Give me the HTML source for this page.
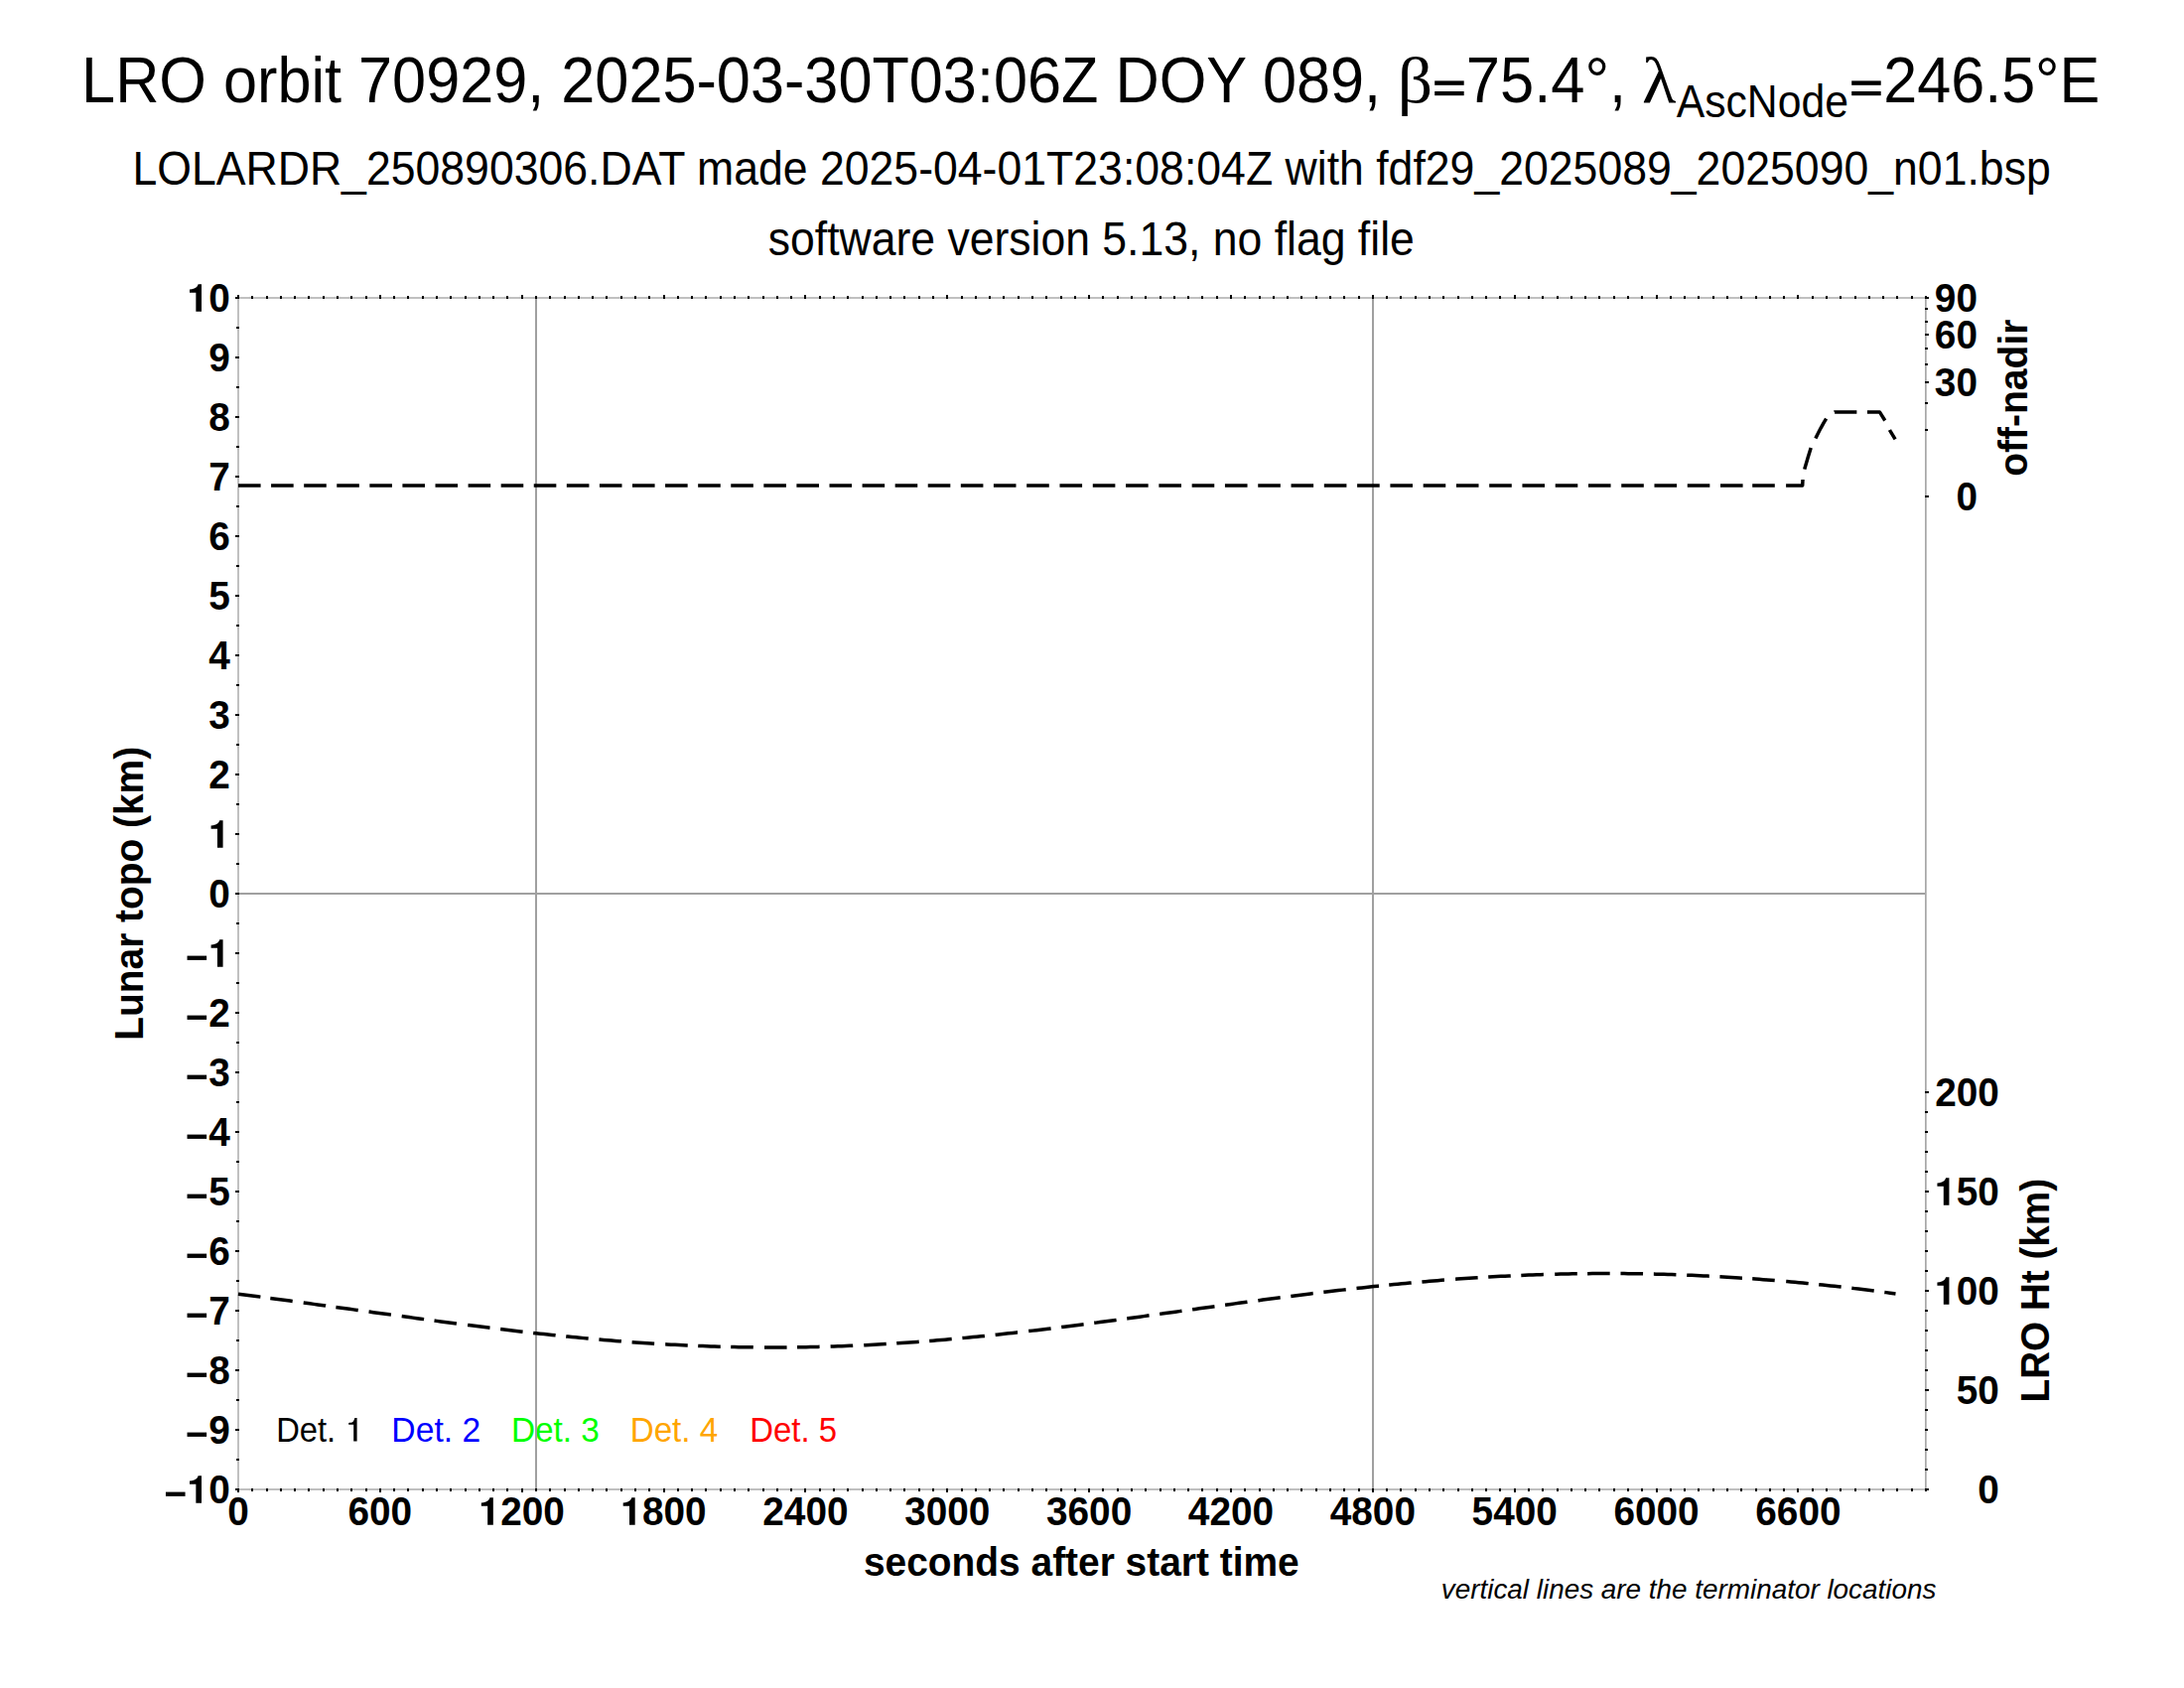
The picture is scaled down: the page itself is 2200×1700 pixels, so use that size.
<!DOCTYPE html><html><head><meta charset="utf-8"><style>html,body{margin:0;padding:0;background:#fff;width:2200px;height:1700px;overflow:hidden}svg{display:block}text{font-family:"Liberation Sans",sans-serif;fill:#000}</style></head><body>
<svg width="2200" height="1700" viewBox="0 0 2200 1700">
<rect width="2200" height="1700" fill="#fff"/>
<g fill="#a0a0a0">
<rect x="240" y="899" width="1700" height="2"/>
</g>
<g fill="#c0c0c0">
<rect x="239" y="299" width="1702" height="2"/>
<rect x="239" y="1499" width="1702" height="2"/>
<rect x="239" y="299" width="2" height="1202"/>
<rect x="1940" y="299" width="1" height="1202"/>
</g>
<rect x="1939" y="299" width="1" height="1202" fill="#a8a8a8"/>
<g fill="#000"><rect x="1445.2" y="81.4" width="29.5" height="4.4"/><rect x="1445.2" y="92" width="29.5" height="4.2"/><rect x="1865.2" y="81.4" width="29.5" height="4.4"/><rect x="1865.2" y="92" width="29.5" height="4.2"/></g>
<g fill="#000">
<rect x="239" y="297" width="2" height="4"/>
<rect x="239" y="1499" width="2" height="4"/>
<rect x="253" y="298" width="2" height="3"/>
<rect x="253" y="1499" width="2" height="3"/>
<rect x="268" y="298" width="2" height="3"/>
<rect x="268" y="1499" width="2" height="3"/>
<rect x="282" y="298" width="2" height="3"/>
<rect x="282" y="1499" width="2" height="3"/>
<rect x="296" y="298" width="2" height="3"/>
<rect x="296" y="1499" width="2" height="3"/>
<rect x="310" y="298" width="2" height="3"/>
<rect x="310" y="1499" width="2" height="3"/>
<rect x="325" y="298" width="2" height="3"/>
<rect x="325" y="1499" width="2" height="3"/>
<rect x="339" y="298" width="2" height="3"/>
<rect x="339" y="1499" width="2" height="3"/>
<rect x="353" y="298" width="2" height="3"/>
<rect x="353" y="1499" width="2" height="3"/>
<rect x="368" y="298" width="2" height="3"/>
<rect x="368" y="1499" width="2" height="3"/>
<rect x="382" y="297" width="2" height="4"/>
<rect x="382" y="1499" width="2" height="4"/>
<rect x="396" y="298" width="2" height="3"/>
<rect x="396" y="1499" width="2" height="3"/>
<rect x="410" y="298" width="2" height="3"/>
<rect x="410" y="1499" width="2" height="3"/>
<rect x="425" y="298" width="2" height="3"/>
<rect x="425" y="1499" width="2" height="3"/>
<rect x="439" y="298" width="2" height="3"/>
<rect x="439" y="1499" width="2" height="3"/>
<rect x="453" y="298" width="2" height="3"/>
<rect x="453" y="1499" width="2" height="3"/>
<rect x="468" y="298" width="2" height="3"/>
<rect x="468" y="1499" width="2" height="3"/>
<rect x="482" y="298" width="2" height="3"/>
<rect x="482" y="1499" width="2" height="3"/>
<rect x="496" y="298" width="2" height="3"/>
<rect x="496" y="1499" width="2" height="3"/>
<rect x="510" y="298" width="2" height="3"/>
<rect x="510" y="1499" width="2" height="3"/>
<rect x="525" y="297" width="2" height="4"/>
<rect x="525" y="1499" width="2" height="4"/>
<rect x="539" y="298" width="2" height="3"/>
<rect x="539" y="1499" width="2" height="3"/>
<rect x="553" y="298" width="2" height="3"/>
<rect x="553" y="1499" width="2" height="3"/>
<rect x="568" y="298" width="2" height="3"/>
<rect x="568" y="1499" width="2" height="3"/>
<rect x="582" y="298" width="2" height="3"/>
<rect x="582" y="1499" width="2" height="3"/>
<rect x="596" y="298" width="2" height="3"/>
<rect x="596" y="1499" width="2" height="3"/>
<rect x="610" y="298" width="2" height="3"/>
<rect x="610" y="1499" width="2" height="3"/>
<rect x="625" y="298" width="2" height="3"/>
<rect x="625" y="1499" width="2" height="3"/>
<rect x="639" y="298" width="2" height="3"/>
<rect x="639" y="1499" width="2" height="3"/>
<rect x="653" y="298" width="2" height="3"/>
<rect x="653" y="1499" width="2" height="3"/>
<rect x="668" y="297" width="2" height="4"/>
<rect x="668" y="1499" width="2" height="4"/>
<rect x="682" y="298" width="2" height="3"/>
<rect x="682" y="1499" width="2" height="3"/>
<rect x="696" y="298" width="2" height="3"/>
<rect x="696" y="1499" width="2" height="3"/>
<rect x="710" y="298" width="2" height="3"/>
<rect x="710" y="1499" width="2" height="3"/>
<rect x="725" y="298" width="2" height="3"/>
<rect x="725" y="1499" width="2" height="3"/>
<rect x="739" y="298" width="2" height="3"/>
<rect x="739" y="1499" width="2" height="3"/>
<rect x="753" y="298" width="2" height="3"/>
<rect x="753" y="1499" width="2" height="3"/>
<rect x="768" y="298" width="2" height="3"/>
<rect x="768" y="1499" width="2" height="3"/>
<rect x="782" y="298" width="2" height="3"/>
<rect x="782" y="1499" width="2" height="3"/>
<rect x="796" y="298" width="2" height="3"/>
<rect x="796" y="1499" width="2" height="3"/>
<rect x="810" y="297" width="2" height="4"/>
<rect x="810" y="1499" width="2" height="4"/>
<rect x="825" y="298" width="2" height="3"/>
<rect x="825" y="1499" width="2" height="3"/>
<rect x="839" y="298" width="2" height="3"/>
<rect x="839" y="1499" width="2" height="3"/>
<rect x="853" y="298" width="2" height="3"/>
<rect x="853" y="1499" width="2" height="3"/>
<rect x="868" y="298" width="2" height="3"/>
<rect x="868" y="1499" width="2" height="3"/>
<rect x="882" y="298" width="2" height="3"/>
<rect x="882" y="1499" width="2" height="3"/>
<rect x="896" y="298" width="2" height="3"/>
<rect x="896" y="1499" width="2" height="3"/>
<rect x="910" y="298" width="2" height="3"/>
<rect x="910" y="1499" width="2" height="3"/>
<rect x="925" y="298" width="2" height="3"/>
<rect x="925" y="1499" width="2" height="3"/>
<rect x="939" y="298" width="2" height="3"/>
<rect x="939" y="1499" width="2" height="3"/>
<rect x="953" y="297" width="2" height="4"/>
<rect x="953" y="1499" width="2" height="4"/>
<rect x="968" y="298" width="2" height="3"/>
<rect x="968" y="1499" width="2" height="3"/>
<rect x="982" y="298" width="2" height="3"/>
<rect x="982" y="1499" width="2" height="3"/>
<rect x="996" y="298" width="2" height="3"/>
<rect x="996" y="1499" width="2" height="3"/>
<rect x="1010" y="298" width="2" height="3"/>
<rect x="1010" y="1499" width="2" height="3"/>
<rect x="1025" y="298" width="2" height="3"/>
<rect x="1025" y="1499" width="2" height="3"/>
<rect x="1039" y="298" width="2" height="3"/>
<rect x="1039" y="1499" width="2" height="3"/>
<rect x="1053" y="298" width="2" height="3"/>
<rect x="1053" y="1499" width="2" height="3"/>
<rect x="1068" y="298" width="2" height="3"/>
<rect x="1068" y="1499" width="2" height="3"/>
<rect x="1082" y="298" width="2" height="3"/>
<rect x="1082" y="1499" width="2" height="3"/>
<rect x="1096" y="297" width="2" height="4"/>
<rect x="1096" y="1499" width="2" height="4"/>
<rect x="1110" y="298" width="2" height="3"/>
<rect x="1110" y="1499" width="2" height="3"/>
<rect x="1125" y="298" width="2" height="3"/>
<rect x="1125" y="1499" width="2" height="3"/>
<rect x="1139" y="298" width="2" height="3"/>
<rect x="1139" y="1499" width="2" height="3"/>
<rect x="1153" y="298" width="2" height="3"/>
<rect x="1153" y="1499" width="2" height="3"/>
<rect x="1168" y="298" width="2" height="3"/>
<rect x="1168" y="1499" width="2" height="3"/>
<rect x="1182" y="298" width="2" height="3"/>
<rect x="1182" y="1499" width="2" height="3"/>
<rect x="1196" y="298" width="2" height="3"/>
<rect x="1196" y="1499" width="2" height="3"/>
<rect x="1210" y="298" width="2" height="3"/>
<rect x="1210" y="1499" width="2" height="3"/>
<rect x="1225" y="298" width="2" height="3"/>
<rect x="1225" y="1499" width="2" height="3"/>
<rect x="1239" y="297" width="2" height="4"/>
<rect x="1239" y="1499" width="2" height="4"/>
<rect x="1253" y="298" width="2" height="3"/>
<rect x="1253" y="1499" width="2" height="3"/>
<rect x="1268" y="298" width="2" height="3"/>
<rect x="1268" y="1499" width="2" height="3"/>
<rect x="1282" y="298" width="2" height="3"/>
<rect x="1282" y="1499" width="2" height="3"/>
<rect x="1296" y="298" width="2" height="3"/>
<rect x="1296" y="1499" width="2" height="3"/>
<rect x="1310" y="298" width="2" height="3"/>
<rect x="1310" y="1499" width="2" height="3"/>
<rect x="1325" y="298" width="2" height="3"/>
<rect x="1325" y="1499" width="2" height="3"/>
<rect x="1339" y="298" width="2" height="3"/>
<rect x="1339" y="1499" width="2" height="3"/>
<rect x="1353" y="298" width="2" height="3"/>
<rect x="1353" y="1499" width="2" height="3"/>
<rect x="1368" y="298" width="2" height="3"/>
<rect x="1368" y="1499" width="2" height="3"/>
<rect x="1382" y="297" width="2" height="4"/>
<rect x="1382" y="1499" width="2" height="4"/>
<rect x="1396" y="298" width="2" height="3"/>
<rect x="1396" y="1499" width="2" height="3"/>
<rect x="1410" y="298" width="2" height="3"/>
<rect x="1410" y="1499" width="2" height="3"/>
<rect x="1425" y="298" width="2" height="3"/>
<rect x="1425" y="1499" width="2" height="3"/>
<rect x="1439" y="298" width="2" height="3"/>
<rect x="1439" y="1499" width="2" height="3"/>
<rect x="1453" y="298" width="2" height="3"/>
<rect x="1453" y="1499" width="2" height="3"/>
<rect x="1468" y="298" width="2" height="3"/>
<rect x="1468" y="1499" width="2" height="3"/>
<rect x="1482" y="298" width="2" height="3"/>
<rect x="1482" y="1499" width="2" height="3"/>
<rect x="1496" y="298" width="2" height="3"/>
<rect x="1496" y="1499" width="2" height="3"/>
<rect x="1510" y="298" width="2" height="3"/>
<rect x="1510" y="1499" width="2" height="3"/>
<rect x="1525" y="297" width="2" height="4"/>
<rect x="1525" y="1499" width="2" height="4"/>
<rect x="1539" y="298" width="2" height="3"/>
<rect x="1539" y="1499" width="2" height="3"/>
<rect x="1553" y="298" width="2" height="3"/>
<rect x="1553" y="1499" width="2" height="3"/>
<rect x="1568" y="298" width="2" height="3"/>
<rect x="1568" y="1499" width="2" height="3"/>
<rect x="1582" y="298" width="2" height="3"/>
<rect x="1582" y="1499" width="2" height="3"/>
<rect x="1596" y="298" width="2" height="3"/>
<rect x="1596" y="1499" width="2" height="3"/>
<rect x="1610" y="298" width="2" height="3"/>
<rect x="1610" y="1499" width="2" height="3"/>
<rect x="1625" y="298" width="2" height="3"/>
<rect x="1625" y="1499" width="2" height="3"/>
<rect x="1639" y="298" width="2" height="3"/>
<rect x="1639" y="1499" width="2" height="3"/>
<rect x="1653" y="298" width="2" height="3"/>
<rect x="1653" y="1499" width="2" height="3"/>
<rect x="1668" y="297" width="2" height="4"/>
<rect x="1668" y="1499" width="2" height="4"/>
<rect x="1682" y="298" width="2" height="3"/>
<rect x="1682" y="1499" width="2" height="3"/>
<rect x="1696" y="298" width="2" height="3"/>
<rect x="1696" y="1499" width="2" height="3"/>
<rect x="1710" y="298" width="2" height="3"/>
<rect x="1710" y="1499" width="2" height="3"/>
<rect x="1725" y="298" width="2" height="3"/>
<rect x="1725" y="1499" width="2" height="3"/>
<rect x="1739" y="298" width="2" height="3"/>
<rect x="1739" y="1499" width="2" height="3"/>
<rect x="1753" y="298" width="2" height="3"/>
<rect x="1753" y="1499" width="2" height="3"/>
<rect x="1768" y="298" width="2" height="3"/>
<rect x="1768" y="1499" width="2" height="3"/>
<rect x="1782" y="298" width="2" height="3"/>
<rect x="1782" y="1499" width="2" height="3"/>
<rect x="1796" y="298" width="2" height="3"/>
<rect x="1796" y="1499" width="2" height="3"/>
<rect x="1810" y="297" width="2" height="4"/>
<rect x="1810" y="1499" width="2" height="4"/>
<rect x="1825" y="298" width="2" height="3"/>
<rect x="1825" y="1499" width="2" height="3"/>
<rect x="1839" y="298" width="2" height="3"/>
<rect x="1839" y="1499" width="2" height="3"/>
<rect x="1853" y="298" width="2" height="3"/>
<rect x="1853" y="1499" width="2" height="3"/>
<rect x="1868" y="298" width="2" height="3"/>
<rect x="1868" y="1499" width="2" height="3"/>
<rect x="1882" y="298" width="2" height="3"/>
<rect x="1882" y="1499" width="2" height="3"/>
<rect x="1896" y="298" width="2" height="3"/>
<rect x="1896" y="1499" width="2" height="3"/>
<rect x="1910" y="298" width="2" height="3"/>
<rect x="1910" y="1499" width="2" height="3"/>
<rect x="1925" y="298" width="2" height="3"/>
<rect x="1925" y="1499" width="2" height="3"/>
<rect x="1939" y="298" width="2" height="3"/>
<rect x="1939" y="1499" width="2" height="3"/>
<rect x="237" y="299" width="4" height="2"/>
<rect x="238" y="329" width="3" height="2"/>
<rect x="237" y="359" width="4" height="2"/>
<rect x="238" y="389" width="3" height="2"/>
<rect x="237" y="419" width="4" height="2"/>
<rect x="238" y="449" width="3" height="2"/>
<rect x="237" y="479" width="4" height="2"/>
<rect x="238" y="509" width="3" height="2"/>
<rect x="237" y="539" width="4" height="2"/>
<rect x="238" y="569" width="3" height="2"/>
<rect x="237" y="599" width="4" height="2"/>
<rect x="238" y="629" width="3" height="2"/>
<rect x="237" y="659" width="4" height="2"/>
<rect x="238" y="689" width="3" height="2"/>
<rect x="237" y="719" width="4" height="2"/>
<rect x="238" y="749" width="3" height="2"/>
<rect x="237" y="779" width="4" height="2"/>
<rect x="238" y="809" width="3" height="2"/>
<rect x="237" y="839" width="4" height="2"/>
<rect x="238" y="869" width="3" height="2"/>
<rect x="237" y="899" width="4" height="2"/>
<rect x="238" y="929" width="3" height="2"/>
<rect x="237" y="959" width="4" height="2"/>
<rect x="238" y="989" width="3" height="2"/>
<rect x="237" y="1019" width="4" height="2"/>
<rect x="238" y="1049" width="3" height="2"/>
<rect x="237" y="1079" width="4" height="2"/>
<rect x="238" y="1109" width="3" height="2"/>
<rect x="237" y="1139" width="4" height="2"/>
<rect x="238" y="1169" width="3" height="2"/>
<rect x="237" y="1199" width="4" height="2"/>
<rect x="238" y="1229" width="3" height="2"/>
<rect x="237" y="1259" width="4" height="2"/>
<rect x="238" y="1289" width="3" height="2"/>
<rect x="237" y="1319" width="4" height="2"/>
<rect x="238" y="1349" width="3" height="2"/>
<rect x="237" y="1379" width="4" height="2"/>
<rect x="238" y="1409" width="3" height="2"/>
<rect x="237" y="1439" width="4" height="2"/>
<rect x="238" y="1469" width="3" height="2"/>
<rect x="237" y="1499" width="4" height="2"/>
<rect x="1939" y="499" width="4" height="2"/>
<rect x="1939" y="432" width="3" height="2"/>
<rect x="1939" y="405" width="3" height="2"/>
<rect x="1939" y="384" width="4" height="2"/>
<rect x="1939" y="366" width="3" height="2"/>
<rect x="1939" y="350" width="3" height="2"/>
<rect x="1939" y="336" width="4" height="2"/>
<rect x="1939" y="323" width="3" height="2"/>
<rect x="1939" y="310" width="3" height="2"/>
<rect x="1939" y="299" width="4" height="2"/>
<rect x="1939" y="1499" width="4" height="2"/>
<rect x="1939" y="1479" width="3" height="2"/>
<rect x="1939" y="1459" width="3" height="2"/>
<rect x="1939" y="1439" width="3" height="2"/>
<rect x="1939" y="1419" width="3" height="2"/>
<rect x="1939" y="1399" width="4" height="2"/>
<rect x="1939" y="1379" width="3" height="2"/>
<rect x="1939" y="1359" width="3" height="2"/>
<rect x="1939" y="1339" width="3" height="2"/>
<rect x="1939" y="1319" width="3" height="2"/>
<rect x="1939" y="1299" width="4" height="2"/>
<rect x="1939" y="1279" width="3" height="2"/>
<rect x="1939" y="1259" width="3" height="2"/>
<rect x="1939" y="1239" width="3" height="2"/>
<rect x="1939" y="1219" width="3" height="2"/>
<rect x="1939" y="1199" width="4" height="2"/>
<rect x="1939" y="1179" width="3" height="2"/>
<rect x="1939" y="1159" width="3" height="2"/>
<rect x="1939" y="1139" width="3" height="2"/>
<rect x="1939" y="1119" width="3" height="2"/>
<rect x="1939" y="1099" width="4" height="2"/>
</g>
<text transform="translate(82.09 103.00) scale(0.9421 1)" font-size="65">LRO orbit 70929, 2025-03-30T03:06Z DOY 089,</text>
<text transform="translate(1407.72 103.00) scale(1.0692 1)" font-size="65" style="font-family:'Liberation Serif'">β</text>
<text transform="translate(1476.76 103.00) scale(0.9463 1)" font-size="65">75.4°,</text>
<text transform="translate(1654.11 103.00) scale(1.0931 1)" font-size="65" style="font-family:'Liberation Serif'">λ</text>
<text transform="translate(1688.70 118.00) scale(0.9361 1)" font-size="45.6">AscNode</text>
<text transform="translate(1897.28 103.00) scale(0.9398 1)" font-size="65">246.5°E</text>
<text transform="translate(133.44 186.00) scale(0.9410 1)" font-size="47.4">LOLARDR_250890306.DAT made 2025-04-01T23:08:04Z with fdf29_2025089_2025090_n01.bsp</text>
<text transform="translate(773.72 256.50) scale(0.9398 1)" font-size="47.4">software version 5.13, no flag file</text>
<text transform="translate(869.95 1587.00) scale(0.9725 1)" font-size="40" font-weight="bold">seconds after start time</text>
<text transform="translate(1451.81 1610.00) scale(0.9954 1)" font-size="28" font-style="italic">vertical lines are the terminator locations</text>
<text transform="translate(143.90 1047.68) rotate(-90) scale(0.9597 1)" font-size="40.5" font-weight="bold">Lunar topo (km)</text>
<text transform="translate(2042.30 479.83) rotate(-90) scale(0.9642 1)" font-size="40.5" font-weight="bold">off-nadir</text>
<text transform="translate(2063.90 1412.46) rotate(-90) scale(0.9550 1)" font-size="40.5" font-weight="bold">LRO Ht (km)</text>
<text transform="translate(278.15 1451.50) scale(0.9491 1)" font-size="34.5">Det.</text>
<text transform="translate(394.37 1451.50) scale(0.9759 1)" font-size="34.5" style="fill:#0000ff">Det. 2</text>
<text transform="translate(514.90 1451.50) scale(0.9667 1)" font-size="34.5" style="fill:#00ff00">Det. 3</text>
<text transform="translate(634.72 1451.50) scale(0.9614 1)" font-size="34.5" style="fill:#ffa500">Det. 4</text>
<text transform="translate(755.14 1451.50) scale(0.9545 1)" font-size="34.5" style="fill:#ff0000">Det. 5</text>
<text transform="translate(188.76 313.70) scale(0.946 1)" font-size="41" font-weight="bold">&#8199;0</text>
<path transform="translate(188.76 313.70)" d="M14.25 0V-27.4H10.9C10.2 -25.2 8.9 -23.8 6.9 -23.25C5.2 -22.7 3.5 -22.4 2.25 -22.25V-18.95H8.6V0Z"/>
<text transform="translate(210.33 373.70) scale(0.946 1)" font-size="41" font-weight="bold">9</text>
<text transform="translate(210.33 433.70) scale(0.946 1)" font-size="41" font-weight="bold">8</text>
<text transform="translate(210.33 493.70) scale(0.946 1)" font-size="41" font-weight="bold">7</text>
<text transform="translate(210.33 553.70) scale(0.946 1)" font-size="41" font-weight="bold">6</text>
<text transform="translate(210.33 613.70) scale(0.946 1)" font-size="41" font-weight="bold">5</text>
<text transform="translate(210.33 673.70) scale(0.946 1)" font-size="41" font-weight="bold">4</text>
<text transform="translate(210.33 733.70) scale(0.946 1)" font-size="41" font-weight="bold">3</text>
<text transform="translate(210.33 793.70) scale(0.946 1)" font-size="41" font-weight="bold">2</text>
<path transform="translate(210.33 853.70)" d="M14.25 0V-27.4H10.9C10.2 -25.2 8.9 -23.8 6.9 -23.25C5.2 -22.7 3.5 -22.4 2.25 -22.25V-18.95H8.6V0Z"/>
<text transform="translate(210.33 913.70) scale(0.946 1)" font-size="41" font-weight="bold">0</text>
<path transform="translate(210.33 973.70)" d="M14.25 0V-27.4H10.9C10.2 -25.2 8.9 -23.8 6.9 -23.25C5.2 -22.7 3.5 -22.4 2.25 -22.25V-18.95H8.6V0Z"/>
<rect x="188.53" y="962.60" width="19.6" height="4.3"/>
<text transform="translate(210.33 1033.70) scale(0.946 1)" font-size="41" font-weight="bold">2</text>
<rect x="188.53" y="1022.60" width="19.6" height="4.3"/>
<text transform="translate(210.33 1093.70) scale(0.946 1)" font-size="41" font-weight="bold">3</text>
<rect x="188.53" y="1082.60" width="19.6" height="4.3"/>
<text transform="translate(210.33 1153.70) scale(0.946 1)" font-size="41" font-weight="bold">4</text>
<rect x="188.53" y="1142.60" width="19.6" height="4.3"/>
<text transform="translate(210.33 1213.70) scale(0.946 1)" font-size="41" font-weight="bold">5</text>
<rect x="188.53" y="1202.60" width="19.6" height="4.3"/>
<text transform="translate(210.33 1273.70) scale(0.946 1)" font-size="41" font-weight="bold">6</text>
<rect x="188.53" y="1262.60" width="19.6" height="4.3"/>
<text transform="translate(210.33 1333.70) scale(0.946 1)" font-size="41" font-weight="bold">7</text>
<rect x="188.53" y="1322.60" width="19.6" height="4.3"/>
<text transform="translate(210.33 1393.70) scale(0.946 1)" font-size="41" font-weight="bold">8</text>
<rect x="188.53" y="1382.60" width="19.6" height="4.3"/>
<text transform="translate(210.33 1453.70) scale(0.946 1)" font-size="41" font-weight="bold">9</text>
<rect x="188.53" y="1442.60" width="19.6" height="4.3"/>
<text transform="translate(188.76 1513.70) scale(0.946 1)" font-size="41" font-weight="bold">&#8199;0</text>
<path transform="translate(188.76 1513.70)" d="M14.25 0V-27.4H10.9C10.2 -25.2 8.9 -23.8 6.9 -23.25C5.2 -22.7 3.5 -22.4 2.25 -22.25V-18.95H8.6V0Z"/>
<rect x="166.96" y="1502.60" width="19.6" height="4.3"/>
<text transform="translate(229.21 1535.70) scale(0.946 1)" font-size="41" font-weight="bold">0</text>
<text transform="translate(350.50 1535.70) scale(0.946 1)" font-size="41" font-weight="bold">600</text>
<text transform="translate(482.57 1535.70) scale(0.946 1)" font-size="41" font-weight="bold">&#8199;200</text>
<path transform="translate(482.57 1535.70)" d="M14.25 0V-27.4H10.9C10.2 -25.2 8.9 -23.8 6.9 -23.25C5.2 -22.7 3.5 -22.4 2.25 -22.25V-18.95H8.6V0Z"/>
<text transform="translate(625.43 1535.70) scale(0.946 1)" font-size="41" font-weight="bold">&#8199;800</text>
<path transform="translate(625.43 1535.70)" d="M14.25 0V-27.4H10.9C10.2 -25.2 8.9 -23.8 6.9 -23.25C5.2 -22.7 3.5 -22.4 2.25 -22.25V-18.95H8.6V0Z"/>
<text transform="translate(768.29 1535.70) scale(0.946 1)" font-size="41" font-weight="bold">2400</text>
<text transform="translate(911.14 1535.70) scale(0.946 1)" font-size="41" font-weight="bold">3000</text>
<text transform="translate(1054.00 1535.70) scale(0.946 1)" font-size="41" font-weight="bold">3600</text>
<text transform="translate(1196.86 1535.70) scale(0.946 1)" font-size="41" font-weight="bold">4200</text>
<text transform="translate(1339.72 1535.70) scale(0.946 1)" font-size="41" font-weight="bold">4800</text>
<text transform="translate(1482.57 1535.70) scale(0.946 1)" font-size="41" font-weight="bold">5400</text>
<text transform="translate(1625.43 1535.70) scale(0.946 1)" font-size="41" font-weight="bold">6000</text>
<text transform="translate(1768.29 1535.70) scale(0.946 1)" font-size="41" font-weight="bold">6600</text>
<text transform="translate(1948.86 314.00) scale(0.946 1)" font-size="41" font-weight="bold">90</text>
<text transform="translate(1948.86 350.70) scale(0.946 1)" font-size="41" font-weight="bold">60</text>
<text transform="translate(1948.86 398.53) scale(0.946 1)" font-size="41" font-weight="bold">30</text>
<text transform="translate(1970.43 514.00) scale(0.946 1)" font-size="41" font-weight="bold">0</text>
<text transform="translate(1949.19 1113.70) scale(0.946 1)" font-size="41" font-weight="bold">200</text>
<text transform="translate(1949.19 1213.70) scale(0.946 1)" font-size="41" font-weight="bold">&#8199;50</text>
<path transform="translate(1949.19 1213.70)" d="M14.25 0V-27.4H10.9C10.2 -25.2 8.9 -23.8 6.9 -23.25C5.2 -22.7 3.5 -22.4 2.25 -22.25V-18.95H8.6V0Z"/>
<text transform="translate(1949.19 1313.70) scale(0.946 1)" font-size="41" font-weight="bold">&#8199;00</text>
<path transform="translate(1949.19 1313.70)" d="M14.25 0V-27.4H10.9C10.2 -25.2 8.9 -23.8 6.9 -23.25C5.2 -22.7 3.5 -22.4 2.25 -22.25V-18.95H8.6V0Z"/>
<text transform="translate(1970.76 1413.70) scale(0.946 1)" font-size="41" font-weight="bold">50</text>
<text transform="translate(1992.33 1513.70) scale(0.946 1)" font-size="41" font-weight="bold">0</text>
<path d="M359.6 1451.6V1428.06H357.3C356.9 1429.6 356.3 1431.2 355.4 1432C354.3 1432.7 352.8 1432.9 351.2 1432.9V1434.8H356.2V1451.6Z"/>
<g fill="#a0a0a0">
<rect x="539" y="301" width="2" height="1198"/>
<rect x="1382" y="301" width="2" height="1198"/>
</g>
<path d="M240.00 1303.20 244.00 1303.72 248.00 1304.25 252.00 1304.77 256.00 1305.30 260.00 1305.82 262.41 1306.14M272.30 1307.46 276.00 1307.95 280.00 1308.49 284.00 1309.02 288.00 1309.56 292.00 1310.10 294.70 1310.47M305.70 1311.96 308.00 1312.28 312.00 1312.82 316.00 1313.37 320.00 1313.92 324.00 1314.47 328.00 1315.01 328.09 1315.03M338.40 1316.45 340.00 1316.67 344.00 1317.22 348.00 1317.77 352.00 1318.33 356.00 1318.88 360.00 1319.43 360.79 1319.54M371.55 1321.03 372.00 1321.09 376.00 1321.65 380.00 1322.20 384.00 1322.75 388.00 1323.30 392.00 1323.85 393.94 1324.12M404.70 1325.60 408.00 1326.05 412.00 1326.60 416.00 1327.14 420.00 1327.68 424.00 1328.23 427.09 1328.64M437.50 1330.04 440.00 1330.37 444.00 1330.91 448.00 1331.44 452.00 1331.96 456.00 1332.49 459.91 1333.00M471.10 1334.44 472.00 1334.56 476.00 1335.07 480.00 1335.58 484.00 1336.08 488.00 1336.58 492.00 1337.08 493.52 1337.27M504.13 1338.56 508.00 1339.03 512.00 1339.50 516.00 1339.98 520.00 1340.44 524.00 1340.91 526.58 1341.20M537.17 1342.40 540.00 1342.71 544.00 1343.15 548.00 1343.59 552.00 1344.02 556.00 1344.44 559.64 1344.82M570.20 1345.90 572.00 1346.08 576.00 1346.47 580.00 1346.86 584.00 1347.24 588.00 1347.62 592.00 1347.99 592.70 1348.05M603.40 1349.01 604.00 1349.06 608.00 1349.41 612.00 1349.74 616.00 1350.07 620.00 1350.40 624.00 1350.71 625.92 1350.86M636.60 1351.66 640.00 1351.91 644.00 1352.19 648.00 1352.46 652.00 1352.73 656.00 1352.99 659.15 1353.18M670.20 1353.84 672.00 1353.94 676.00 1354.16 680.00 1354.37 684.00 1354.57 688.00 1354.77 692.00 1354.96 692.77 1354.99M703.20 1355.44 704.00 1355.47 708.00 1355.62 712.00 1355.77 716.00 1355.91 720.00 1356.03 724.00 1356.16 725.79 1356.21M736.20 1356.47 740.00 1356.55 744.00 1356.63 748.00 1356.70 752.00 1356.76 756.00 1356.82 758.80 1356.85M770.00 1356.93 772.00 1356.94 776.00 1356.95 780.00 1356.95 784.00 1356.95 788.00 1356.93 792.00 1356.91 792.60 1356.90M803.00 1356.79 804.00 1356.78 808.00 1356.72 812.00 1356.65 816.00 1356.58 820.00 1356.49 824.00 1356.40 825.60 1356.36M836.60 1356.05 840.00 1355.94 844.00 1355.81 848.00 1355.67 852.00 1355.51 856.00 1355.35 859.18 1355.22M870.20 1354.72 872.00 1354.63 876.00 1354.43 880.00 1354.22 884.00 1354.01 888.00 1353.78 892.00 1353.55 892.77 1353.51M903.20 1352.86 904.00 1352.81 908.00 1352.55 912.00 1352.28 916.00 1352.00 920.00 1351.71 924.00 1351.42 925.75 1351.29M936.20 1350.48 940.00 1350.18 944.00 1349.85 948.00 1349.52 952.00 1349.18 956.00 1348.83 958.72 1348.59M969.40 1347.61 972.00 1347.37 976.00 1346.99 980.00 1346.60 984.00 1346.21 988.00 1345.81 991.89 1345.42M1002.60 1344.31 1004.00 1344.16 1008.00 1343.73 1012.00 1343.30 1016.00 1342.86 1020.00 1342.42 1024.00 1341.97 1025.07 1341.85M1036.20 1340.57 1040.00 1340.13 1044.00 1339.66 1048.00 1339.18 1052.00 1338.70 1056.00 1338.22 1058.64 1337.89M1069.20 1336.59 1072.00 1336.24 1076.00 1335.73 1080.00 1335.22 1084.00 1334.71 1088.00 1334.20 1091.62 1333.73M1102.20 1332.35 1104.00 1332.11 1108.00 1331.58 1112.00 1331.05 1116.00 1330.51 1120.00 1329.98 1124.00 1329.44 1124.60 1329.36M1135.20 1327.92 1136.00 1327.81 1140.00 1327.27 1144.00 1326.72 1148.00 1326.17 1152.00 1325.62 1156.00 1325.07 1157.59 1324.85M1168.15 1323.38 1172.00 1322.85 1176.00 1322.29 1180.00 1321.74 1184.00 1321.18 1188.00 1320.62 1190.53 1320.27M1201.10 1318.80 1204.00 1318.40 1208.00 1317.84 1212.00 1317.29 1216.00 1316.73 1220.00 1316.18 1223.49 1315.69M1234.10 1314.23 1236.00 1313.97 1240.00 1313.42 1244.00 1312.88 1248.00 1312.33 1252.00 1311.79 1256.00 1311.25 1256.49 1311.18M1267.30 1309.73 1268.00 1309.64 1272.00 1309.10 1276.00 1308.57 1280.00 1308.05 1284.00 1307.52 1288.00 1307.00 1289.71 1306.78M1300.30 1305.41 1304.00 1304.94 1308.00 1304.44 1312.00 1303.93 1316.00 1303.44 1320.00 1302.94 1322.72 1302.61M1333.30 1301.32 1336.00 1301.00 1340.00 1300.52 1344.00 1300.05 1348.00 1299.59 1352.00 1299.13 1355.75 1298.70M1366.50 1297.49 1368.00 1297.33 1372.00 1296.89 1376.00 1296.46 1380.00 1296.03 1384.00 1295.61 1388.00 1295.19 1388.97 1295.09M1399.20 1294.06 1400.00 1293.98 1404.00 1293.58 1408.00 1293.19 1412.00 1292.81 1416.00 1292.43 1420.00 1292.06 1421.70 1291.91M1432.40 1290.96 1436.00 1290.64 1440.00 1290.31 1444.00 1289.97 1448.00 1289.65 1452.00 1289.33 1454.92 1289.10M1466.10 1288.26 1468.00 1288.12 1472.00 1287.83 1476.00 1287.55 1480.00 1287.28 1484.00 1287.02 1488.00 1286.76 1488.65 1286.72M1499.20 1286.08 1500.00 1286.03 1504.00 1285.81 1508.00 1285.58 1512.00 1285.37 1516.00 1285.17 1520.00 1284.97 1521.77 1284.88M1532.30 1284.41 1536.00 1284.25 1540.00 1284.09 1544.00 1283.94 1548.00 1283.79 1552.00 1283.66 1554.88 1283.56M1566.20 1283.23 1568.00 1283.19 1572.00 1283.09 1576.00 1283.00 1580.00 1282.92 1584.00 1282.84 1588.00 1282.78 1588.80 1282.77M1599.10 1282.64 1600.00 1282.63 1604.00 1282.59 1608.00 1282.57 1612.00 1282.55 1616.00 1282.54 1620.00 1282.54 1621.70 1282.54M1632.47 1282.58 1636.00 1282.61 1640.00 1282.65 1644.00 1282.69 1648.00 1282.75 1652.00 1282.81 1655.06 1282.86M1665.83 1283.09 1668.00 1283.14 1672.00 1283.24 1676.00 1283.35 1680.00 1283.47 1684.00 1283.60 1688.00 1283.73 1688.42 1283.74M1699.20 1284.15 1700.00 1284.18 1704.00 1284.34 1708.00 1284.52 1712.00 1284.70 1716.00 1284.89 1720.00 1285.08 1721.78 1285.17M1732.40 1285.74 1736.00 1285.95 1740.00 1286.18 1744.00 1286.42 1748.00 1286.67 1752.00 1286.93 1754.96 1287.13M1765.20 1287.84 1768.00 1288.04 1772.00 1288.34 1776.00 1288.64 1780.00 1288.95 1784.00 1289.27 1787.73 1289.57M1799.20 1290.54 1800.00 1290.61 1804.00 1290.97 1808.00 1291.33 1812.00 1291.70 1816.00 1292.07 1820.00 1292.46 1821.70 1292.62M1832.20 1293.67 1836.00 1294.06 1840.00 1294.48 1844.00 1294.91 1848.00 1295.34 1852.00 1295.78 1854.67 1296.08M1865.30 1297.30 1868.00 1297.62 1872.00 1298.09 1876.00 1298.57 1880.00 1299.07 1884.00 1299.56 1887.73 1300.03M1898.30 1301.40 1900.00 1301.62 1904.00 1302.16 1908.00 1302.70 1909.50 1302.90" fill="none" stroke="#000" stroke-width="3.5"/>
<path d="M240.00 489.00 262.60 489.00M273.08 489.00 295.68 489.00M306.17 489.00 328.77 489.00M339.25 489.00 361.85 489.00M372.33 489.00 394.93 489.00M405.41 489.00 428.01 489.00M438.50 489.00 461.10 489.00M471.58 489.00 494.18 489.00M504.66 489.00 527.26 489.00M537.74 489.00 560.34 489.00M570.83 489.00 593.43 489.00M603.91 489.00 626.51 489.00M636.99 489.00 659.59 489.00M670.07 489.00 692.67 489.00M703.16 489.00 725.76 489.00M736.24 489.00 758.84 489.00M769.32 489.00 791.92 489.00M802.40 489.00 825.00 489.00M835.49 489.00 858.09 489.00M868.57 489.00 891.17 489.00M901.65 489.00 924.25 489.00M934.73 489.00 957.33 489.00M967.82 489.00 990.42 489.00M1000.90 489.00 1023.50 489.00M1034.19 489.00 1056.79 489.00M1067.48 489.00 1090.08 489.00M1100.78 489.00 1123.38 489.00M1134.07 489.00 1156.67 489.00M1167.36 489.00 1189.96 489.00M1200.65 489.00 1223.25 489.00M1233.94 489.00 1256.54 489.00M1267.23 489.00 1289.83 489.00M1300.53 489.00 1323.12 489.00M1333.82 489.00 1356.42 489.00M1367.11 489.00 1389.71 489.00M1400.40 489.00 1423.00 489.00M1433.66 489.00 1456.26 489.00M1466.92 489.00 1489.52 489.00M1500.18 489.00 1522.78 489.00M1533.44 489.00 1556.04 489.00M1566.70 489.00 1589.30 489.00M1599.96 489.00 1622.56 489.00M1633.22 489.00 1655.82 489.00M1666.48 489.00 1689.08 489.00M1699.74 489.00 1722.34 489.00M1733.00 489.00 1755.60 489.00M1765.20 489.00 1787.80 489.00M1799.10 489.00 1815.70 489.00 1816.00 483.01M1817.81 472.61 1818.10 471.20 1821.10 461.00 1824.19 450.93M1828.86 441.46 1829.40 440.40 1831.20 436.80 1834.00 431.30 1836.90 426.10 1839.58 421.58M1847.82 415.08 1848.10 414.90 1870.37 414.90M1880.93 414.90 1893.40 414.90 1898.77 423.49M1903.51 432.92 1904.10 434.10 1909.10 442.40" fill="none" stroke="#000" stroke-width="3.5" stroke-linejoin="round"/>
</svg></body></html>
